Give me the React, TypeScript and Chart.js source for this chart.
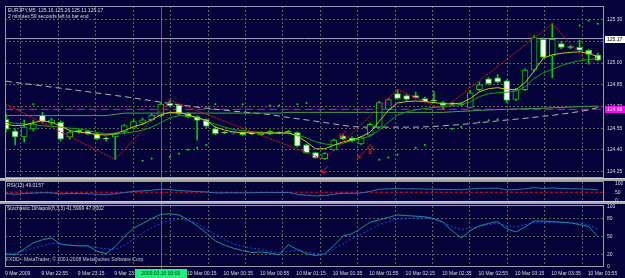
import React, { useEffect, useRef } from 'react';
import { Chart, registerables } from 'chart.js';

Chart.register(...registerables);

// ---------- texts ----------
const symbolTitle = 'EURJPY,M5  125.16 125.26 125.11 125.17';
const timerText = '2 minutes 59 seconds left to bar end';
const rsiTitle = 'RSI(13) 49.0157';
const stochTitle = 'Stochastic DiNapoli(8,3,3) 41.5999 47.0002';
const copyrightText = 'FXDD - MetaTrader, \u00a9 2001-2008 MetaQuotes Software Corp.';
const cursorTimeText = '2009.03.10 00:00';

// ---------- time axis ----------
const timeLabels = [
  '9 Mar 2009', '9 Mar 22:55', '9 Mar 23:15', '9 Mar 23:35', '9 Mar 23:55',
  '10 Mar 00:15', '10 Mar 00:35', '10 Mar 00:55', '10 Mar 01:15', '10 Mar 01:35',
  '10 Mar 01:55', '10 Mar 02:15', '10 Mar 02:35', '10 Mar 02:55', '10 Mar 03:15',
  '10 Mar 03:35', '10 Mar 03:55',
];
const timeLabelBars = [0, 4, 8, 12, 16, 20, 24, 28, 32, 36, 40, 44, 48, 52, 56, 60, 64];
const separatorBar = 17;

// ---------- candles (EURJPY M5) ----------
const opens = [
  124.611, 124.530, 124.489, 124.545, 124.640, 124.584, 124.591, 124.489, 124.534, 124.528,
  124.511, 124.475, 124.489, 124.523, 124.550, 124.584, 124.609, 124.637, 124.722, 124.709,
  124.652, 124.630, 124.609, 124.545, 124.520, 124.517, 124.518, 124.512, 124.505, 124.512,
  124.517, 124.515, 124.520, 124.434, 124.380, 124.339, 124.400, 124.496, 124.482, 124.441,
  124.502, 124.557, 124.680, 124.789, 124.775, 124.775, 124.755, 124.741, 124.727, 124.722,
  124.716, 124.693, 124.816, 124.891, 124.898, 124.877, 124.748, 124.816, 124.952, 125.164,
  125.048, 125.136, 125.110, 125.109, 125.089, 125.055,
];
const highs = [
  124.645, 124.545, 124.605, 124.605, 124.659, 124.620, 124.600, 124.530, 124.540, 124.535,
  124.515, 124.490, 124.520, 124.575, 124.610, 124.620, 124.650, 124.725, 124.743, 124.715,
  124.660, 124.635, 124.615, 124.560, 124.525, 124.525, 124.525, 124.520, 124.525, 124.535,
  124.525, 124.535, 124.525, 124.440, 124.385, 124.380, 124.475, 124.505, 124.490, 124.495,
  124.585, 124.735, 124.755, 124.816, 124.785, 124.800, 124.765, 124.805, 124.735, 124.730,
  124.722, 124.810, 124.870, 124.900, 124.920, 124.885, 124.825, 124.960, 125.190, 125.175,
  125.273, 125.150, 125.120, 125.160, 125.095, 125.070,
];
const lows = [
  124.523, 124.434, 124.455, 124.530, 124.584, 124.570, 124.460, 124.475, 124.515, 124.505,
  124.470, 124.460, 124.332, 124.510, 124.545, 124.575, 124.600, 124.630, 124.700, 124.640,
  124.620, 124.466, 124.555, 124.505, 124.510, 124.510, 124.500, 124.505, 124.500, 124.505,
  124.510, 124.510, 124.420, 124.375, 124.340, 124.332, 124.395, 124.470, 124.455, 124.435,
  124.495, 124.550, 124.675, 124.750, 124.740, 124.755, 124.730, 124.730, 124.680, 124.712,
  124.705, 124.690, 124.810, 124.850, 124.865, 124.727, 124.740, 124.810, 124.945, 125.035,
  124.900, 125.100, 125.100, 125.080, 124.993, 125.015,
];
const closes = [
  124.543, 124.489, 124.557, 124.580, 124.595, 124.607, 124.473, 124.523, 124.523, 124.512,
  124.477, 124.473, 124.511, 124.568, 124.596, 124.607, 124.641, 124.716, 124.705, 124.648,
  124.630, 124.603, 124.564, 124.511, 124.516, 124.519, 124.505, 124.510, 124.518, 124.528,
  124.515, 124.528, 124.427, 124.380, 124.346, 124.373, 124.468, 124.475, 124.461, 124.489,
  124.577, 124.727, 124.748, 124.755, 124.748, 124.761, 124.734, 124.736, 124.707, 124.718,
  124.712, 124.795, 124.850, 124.857, 124.870, 124.741, 124.816, 124.952, 125.177, 125.041,
  125.164, 125.109, 125.108, 125.089, 125.061, 125.020,
];

// ---------- moving averages ----------
const fastMA = [
  124.577, 124.567, 124.571, 124.588, 124.601, 124.591, 124.564, 124.533, 124.523, 124.516,
  124.506, 124.502, 124.511, 124.533, 124.560, 124.577, 124.608, 124.642, 124.659, 124.659,
  124.642, 124.622, 124.605, 124.557, 124.536, 124.523, 124.519, 124.518, 124.516, 124.516,
  124.516, 124.518, 124.496, 124.455, 124.407, 124.407, 124.431, 124.455, 124.468, 124.489,
  124.523, 124.598, 124.673, 124.724, 124.734, 124.738, 124.734, 124.727, 124.720, 124.717,
  124.724, 124.755, 124.802, 124.823, 124.830, 124.819, 124.816, 124.864, 124.945, 125.034,
  125.058, 125.068, 125.075, 125.078, 125.068, 125.044,
];
const slowMA = [
  124.591, 124.584, 124.579, 124.574, 124.567, 124.562, 124.557, 124.550, 124.546, 124.533,
  124.519, 124.511, 124.511, 124.516, 124.523, 124.536, 124.557, 124.588, 124.622, 124.637,
  124.635, 124.622, 124.598, 124.577, 124.557, 124.540, 124.533, 124.525, 124.521, 124.519,
  124.516, 124.513, 124.502, 124.482, 124.455, 124.441, 124.433, 124.444, 124.465, 124.475,
  124.496, 124.536, 124.591, 124.639, 124.663, 124.676, 124.686, 124.693, 124.699, 124.706,
  124.714, 124.731, 124.768, 124.789, 124.794, 124.799, 124.806, 124.836, 124.894, 124.932,
  124.956, 124.983, 125.003, 125.017, 125.024, 125.034,
];
const longMA = [
  124.637, 124.637, 124.637, 124.637, 124.637, 124.637, 124.637, 124.637, 124.637, 124.637,
  124.637, 124.637, 124.645, 124.654, 124.654, 124.654, 124.654, 124.654, 124.654, 124.654,
  124.654, 124.654, 124.654, 124.654, 124.654, 124.654, 124.654, 124.654, 124.654, 124.654,
  124.654, 124.659, 124.659, 124.659, 124.659, 124.659, 124.659, 124.659, 124.659, 124.659,
  124.659, 124.659, 124.659, 124.659, 124.659, 124.659, 124.659, 124.659, 124.659, 124.663,
  124.666, 124.669, 124.673, 124.676, 124.678, 124.680, 124.682, 124.684, 124.686, 124.688,
  124.691, 124.693, 124.696, 124.699, 124.701, 124.703,
];
const grayMA = [
  124.875, 124.866, 124.858, 124.851, 124.843, 124.834, 124.826, 124.818, 124.810, 124.802,
  124.793, 124.785, 124.776, 124.768, 124.759, 124.749, 124.740, 124.730, 124.721, 124.711,
  124.704, 124.695, 124.688, 124.681, 124.674, 124.667, 124.662, 124.656, 124.651, 124.643,
  124.634, 124.624, 124.615, 124.607, 124.598, 124.589, 124.579, 124.569, 124.561, 124.557,
  124.557, 124.557, 124.557, 124.557, 124.557, 124.557, 124.559, 124.562, 124.566, 124.571,
  124.575, 124.581, 124.588, 124.593, 124.600, 124.606, 124.612, 124.618, 124.625, 124.632,
  124.638, 124.647, 124.656, 124.665, 124.676, 124.693,
];

// ---------- zigzag ----------
const zigzagBars = [-1, 12, 18, 35, 43, 48, 60, 64, 65];
const zigzagPrices = [124.748, 124.332, 124.743, 124.332, 124.816, 124.680, 125.273, 124.993, 125.048];

// ---------- dots & arrows ----------
const sarBars = [3, 15, 16, 18, 19, 20, 21, 22, 23, 26, 29, 30, 32, 33, 41, 42, 43, 45, 46, 49, 50, 52, 53, 54, 63, 64, 65];
const sarPrices = [
  124.716, 124.325, 124.339, 124.352, 124.373, 124.400, 124.414, 124.434, 124.716, 124.716,
  124.707, 124.707, 124.716, 124.724, 124.332, 124.346, 124.366, 124.414, 124.434, 124.546,
  124.557, 124.591, 124.605, 124.611, 125.261, 125.295, 125.273,
];
const arrowBars = [35, 37, 39];
const arrowPrices = [124.264, 124.509, 124.366];
const upArrowBars = [40];
const upArrowPrices = [124.407];

// ---------- levels ----------
const bidPrice = 125.17;
const magentaLevel = 124.68;
const priceTicks = [124.25, 124.4, 124.55, 124.7, 124.85, 125.0, 125.15, 125.3];

// ---------- RSI ----------
const rsiValues = [
  42, 38, 43, 45, 47, 46, 40, 42, 42, 41,
  38, 37, 41, 48, 55, 58, 62, 68, 66, 60,
  57, 54, 52, 46, 46, 47, 46, 47, 48, 49,
  48, 49, 38, 32, 28, 30, 38, 44, 43, 46,
  55, 68, 70, 72, 70, 71, 69, 68, 66, 66,
  65, 70, 73, 74, 74, 64, 66, 70, 78, 72,
  76, 72, 71, 70, 68, 64,
];
const rsiLevel = 50;
const rsiTicks = [0, 50, 100];

// ---------- Stochastic ----------
const stochMain = [
  22, 20, 30, 40, 45, 48, 38, 36, 35, 35,
  26, 22, 34, 50, 64, 72, 80, 87, 88, 86,
  78, 68, 56, 43, 36, 31, 27, 24, 25, 23,
  20, 37, 29, 22, 19, 22, 35, 51, 55, 64,
  74, 78, 82, 86, 85, 84, 83, 80, 74, 60,
  48, 60, 68, 72, 75, 63, 58, 66, 76, 76,
  75, 74, 73, 70, 67, 50,
];
const stochSignal = [
  20, 23, 27, 31, 35, 39, 38, 36, 35, 34,
  32, 30, 29, 36, 46, 56, 65, 72, 77, 79,
  77, 72, 62, 54, 45, 38, 34, 31, 29, 26,
  23, 26, 28, 25, 22, 20, 30, 38, 47, 54,
  62, 70, 75, 79, 80, 81, 81, 79, 74, 66,
  62, 64, 67, 70, 72, 68, 66, 70, 74, 74,
  74, 74, 73, 72, 70, 63,
];
const stochLevels = [20, 50, 80];
const stochTicks = [0, 20, 50, 80, 100];

// ---------- styling ----------
const BG = '#03033a';
const GRID = '#5a6450';
const TEXT = '#dcdcdc';
const FRAME = '#9a9a9a';
const FONT_FAMILY = '"Liberation Sans", Arial, sans-serif';
const CANDLE_GREEN = '#00c800';

function makeDownLeftArrow(): HTMLCanvasElement {
  const c = document.createElement('canvas');
  c.width = 9;
  c.height = 9;
  const g = c.getContext('2d')!;
  g.strokeStyle = '#e01818';
  g.lineWidth = 1;
  g.beginPath();
  g.moveTo(8, 1);
  g.lineTo(2, 7);
  g.stroke();
  g.beginPath();
  g.moveTo(1.5, 4);
  g.lineTo(1.5, 7.5);
  g.lineTo(5, 7.5);
  g.stroke();
  return c;
}

function makeUpArrow(): HTMLCanvasElement {
  const c = document.createElement('canvas');
  c.width = 7;
  c.height = 10;
  const g = c.getContext('2d')!;
  g.strokeStyle = '#c82020';
  g.lineWidth = 1;
  g.beginPath();
  g.moveTo(3.5, 0.5);
  g.lineTo(6.5, 4.5);
  g.lineTo(4.5, 4.5);
  g.lineTo(4.5, 9.5);
  g.lineTo(2.5, 9.5);
  g.lineTo(2.5, 4.5);
  g.lineTo(0.5, 4.5);
  g.closePath();
  g.stroke();
  return c;
}

const overlayPlugin = {
  id: 'mt4Overlay',
  beforeDraw(chart: any) {
    const ctx = chart.ctx;
    ctx.save();
    ctx.fillStyle = BG;
    ctx.fillRect(0, 0, chart.width, chart.height);
    ctx.restore();
  },
  beforeDatasetsDraw(chart: any) {
    const { ctx, chartArea: ca } = chart;
    const x = Math.round(chart.scales.x.getPixelForValue(separatorBar)) + 0.5;
    ctx.save();
    ctx.strokeStyle = '#009a40';
    ctx.lineWidth = 1;
    ctx.beginPath();
    ctx.moveTo(x, ca.top);
    ctx.lineTo(x, chart.height);
    ctx.stroke();
    ctx.restore();
  },
  afterDraw(chart: any) {
    const { ctx, chartArea: ca } = chart;
    const W = chart.width;
    const xs = chart.scales.x;
    const sMain = chart.scales.yMain;
    const sRsi = chart.scales.yRsi;
    ctx.save();
    // panel frames
    ctx.strokeStyle = FRAME;
    ctx.lineWidth = 1;
    const panels = [
      [ca.top, sMain.bottom - 1.5],
      [sMain.bottom + 1.5, sRsi.bottom - 1.5],
      [sRsi.bottom + 1.5, ca.bottom],
    ];
    for (const [t, b] of panels) {
      ctx.strokeRect(Math.round(ca.left) + 0.5, Math.round(t) + 0.5, Math.round(ca.right - ca.left) - 1, Math.round(b - t) - 1);
    }
    // separators
    for (const b of [sMain.bottom, sRsi.bottom]) {
      const y = Math.round(b) - 2;
      ctx.fillStyle = '#a8a8a8';
      ctx.fillRect(0, y, W, 3);
      ctx.fillStyle = '#d0d0d0';
      ctx.fillRect(0, y, W, 1);
    }
    // texts
    ctx.font = `5px ${FONT_FAMILY}`;
    ctx.fillStyle = TEXT;
    ctx.textBaseline = 'top';
    ctx.textAlign = 'left';
    ctx.fillText(symbolTitle, ca.left + 3, ca.top + 2);
    ctx.fillText(timerText, ca.left + 3, ca.top + 8);
    ctx.fillText(rsiTitle, ca.left + 2, sMain.bottom + 3);
    ctx.fillText(stochTitle, ca.left + 2, sRsi.bottom + 3);
    ctx.fillStyle = '#c8c8c8';
    ctx.fillText(copyrightText, ca.left + 1, ca.bottom - 10);
    // time labels along the x scale
    ctx.fillStyle = TEXT;
    ctx.textBaseline = 'middle';
    timeLabelBars.forEach((b, k) => {
      const px = xs.getPixelForValue(b);
      ctx.fillText(timeLabels[k], Math.max(1, px - 1), ca.bottom + 6.5);
    });
    // bid box
    const bidY = Math.round(sMain.getPixelForValue(bidPrice));
    ctx.fillStyle = '#ffffff';
    ctx.fillRect(ca.right + 1, bidY - 3, 20, 7);
    ctx.fillStyle = '#000000';
    ctx.fillText(bidPrice.toFixed(2), ca.right + 3, bidY + 0.5);
    // magenta level box
    const magY = Math.round(sMain.getPixelForValue(magentaLevel));
    ctx.fillStyle = '#ff00ff';
    ctx.fillRect(ca.right + 1, magY - 3, 20, 7);
    ctx.fillStyle = '#ffffff';
    ctx.fillText(magentaLevel.toFixed(2), ca.right + 3, magY + 0.5);
    // cursor time box
    const tx = xs.getPixelForValue(separatorBar);
    ctx.fillStyle = '#22f07a';
    ctx.fillRect(Math.round(tx - 26), ca.bottom + 2, 52, 9);
    ctx.fillStyle = '#003010';
    ctx.textAlign = 'center';
    ctx.fillText(cursorTimeText, tx, ca.bottom + 6.5);
    ctx.restore();
  },
};

export default function App() {
  const canvasRef = useRef<HTMLCanvasElement | null>(null);

  useEffect(() => {
    const canvas = canvasRef.current;
    if (!canvas) return;
    const bars = opens.map((_, i) => i);
    const downArrow = makeDownLeftArrow();
    const upArrow = makeUpArrow();
    const xMin = -0.109;
    const xMax = 65.68;
    const gridStart = 1.64;
    const gridStep = 4.11;
    const tickFont = { size: 5, family: FONT_FAMILY };

    const chart = new Chart(canvas, {
      type: 'line',
      data: {
        datasets: [
          {
            type: 'line',
            label: 'dots',
            data: sarBars.map((b, i) => ({ x: b, y: sarPrices[i] })),
            showLine: false,
            pointRadius: 1,
            pointBorderWidth: 0,
            pointBackgroundColor: '#10e010',
            xAxisID: 'x',
            yAxisID: 'yMain',
            order: 0,
          },
          {
            type: 'line',
            label: 'arrows',
            data: arrowBars.map((b, i) => ({ x: b, y: arrowPrices[i] })),
            showLine: false,
            pointStyle: downArrow,
            xAxisID: 'x',
            yAxisID: 'yMain',
            order: 0,
          },
          {
            type: 'line',
            label: 'upArrows',
            data: upArrowBars.map((b, i) => ({ x: b, y: upArrowPrices[i] })),
            showLine: false,
            pointStyle: upArrow,
            xAxisID: 'x',
            yAxisID: 'yMain',
            order: 0,
          },
          {
            type: 'line',
            label: 'zigzag',
            data: zigzagBars.map((b, i) => ({ x: b, y: zigzagPrices[i] })),
            borderColor: '#d01818',
            borderWidth: 1,
            borderDash: [2, 1],
            pointRadius: 0,
            xAxisID: 'x',
            yAxisID: 'yMain',
            order: 1,
          },
          {
            type: 'line',
            label: 'fast',
            data: bars.map((i) => ({ x: i, y: fastMA[i] })),
            borderColor: '#c8c800',
            borderWidth: 1,
            pointRadius: 0,
            xAxisID: 'x',
            yAxisID: 'yMain',
            order: 2,
          },
          {
            type: 'line',
            label: 'slow',
            data: bars.map((i) => ({ x: i, y: slowMA[i] })),
            borderColor: '#10a010',
            borderWidth: 1,
            pointRadius: 0,
            xAxisID: 'x',
            yAxisID: 'yMain',
            order: 3,
          },
          {
            type: 'line',
            label: 'long',
            data: bars.map((i) => ({ x: i, y: longMA[i] })),
            borderColor: '#48a048',
            borderWidth: 1,
            pointRadius: 0,
            xAxisID: 'x',
            yAxisID: 'yMain',
            order: 4,
          },
          {
            type: 'bar',
            label: 'bodies',
            data: bars.map((i) => ({ x: i, y: [opens[i], closes[i]] })),
            backgroundColor: bars.map((i) => (closes[i] >= opens[i] ? BG : '#ffffff')),
            borderColor: CANDLE_GREEN,
            borderWidth: 1,
            borderSkipped: false,
            barThickness: 6,
            minBarLength: 1,
            grouped: false,
            xAxisID: 'x',
            yAxisID: 'yMain',
            order: 5,
          } as any,
          {
            type: 'bar',
            label: 'wicks',
            data: bars.map((i) => ({ x: i, y: [lows[i], highs[i]] })),
            backgroundColor: CANDLE_GREEN,
            borderWidth: 0,
            barThickness: 1,
            grouped: false,
            xAxisID: 'x',
            yAxisID: 'yMain',
            order: 6,
          } as any,
          {
            type: 'line',
            label: 'grayMA',
            data: bars.map((i) => ({ x: i, y: grayMA[i] })),
            borderColor: '#b4b4b4',
            borderWidth: 1,
            borderDash: [6, 4],
            pointRadius: 0,
            xAxisID: 'x',
            yAxisID: 'yMain',
            order: 7,
          },
          {
            type: 'line',
            label: 'magenta',
            data: [{ x: xMin, y: magentaLevel }, { x: xMax, y: magentaLevel }],
            borderColor: '#e000e0',
            borderWidth: 1,
            borderDash: [8, 4],
            pointRadius: 0,
            xAxisID: 'x',
            yAxisID: 'yMain',
            order: 8,
          },
          {
            type: 'line',
            label: 'bid',
            data: [{ x: xMin, y: bidPrice }, { x: xMax, y: bidPrice }],
            borderColor: '#a8a8a8',
            borderWidth: 1,
            pointRadius: 0,
            xAxisID: 'x',
            yAxisID: 'yMain',
            order: 9,
          },
          {
            type: 'line',
            label: 'rsiLevel',
            data: [{ x: xMin, y: rsiLevel }, { x: xMax, y: rsiLevel }],
            borderColor: '#e01010',
            borderWidth: 1,
            borderDash: [3, 2],
            pointRadius: 0,
            xAxisID: 'x',
            yAxisID: 'yRsi',
            order: 2,
          },
          {
            type: 'line',
            label: 'rsi',
            data: bars.map((i) => ({ x: i, y: rsiValues[i] })),
            borderColor: '#2a74b0',
            borderWidth: 1,
            pointRadius: 0,
            xAxisID: 'x',
            yAxisID: 'yRsi',
            order: 1,
          },
          {
            type: 'line',
            label: 'stochMain',
            data: bars.map((i) => ({ x: i, y: stochMain[i] })),
            borderColor: '#1e9090',
            borderWidth: 1,
            pointRadius: 0,
            xAxisID: 'x',
            yAxisID: 'yStoch',
            order: 1,
          },
          {
            type: 'line',
            label: 'stochSignal',
            data: bars.map((i) => ({ x: i, y: stochSignal[i] })),
            borderColor: '#2440ff',
            borderWidth: 1,
            borderDash: [2, 2],
            pointRadius: 0,
            xAxisID: 'x',
            yAxisID: 'yStoch',
            order: 2,
          },
        ],
      },
      options: {
        responsive: false,
        animation: false,
        devicePixelRatio: 1,
        events: [],
        layout: { padding: { top: 2, left: 2, right: 0, bottom: 0 } },
        plugins: { legend: { display: false }, tooltip: { enabled: false } },
        scales: {
          x: {
            type: 'linear',
            position: 'bottom',
            min: xMin,
            max: xMax,
            offset: false,
            grid: { display: false },
            border: { display: false },
            ticks: { display: false },
            afterFit: (axis: any) => {
              axis.height = 11;
            },
          },
          xg: {
            type: 'linear',
            position: 'bottom',
            min: xMin,
            max: xMax,
            offset: false,
            grid: { color: GRID, drawTicks: false, lineWidth: 1 },
            border: { display: false, dash: [2, 2] },
            ticks: { display: false },
            afterBuildTicks: (axis: any) => {
              const t = [];
              for (let v = gridStart; v < xMax; v += gridStep) t.push({ value: v });
              axis.ticks = t;
            },
            afterFit: (axis: any) => {
              axis.height = 0;
            },
          },
          yMain: {
            type: 'linear',
            position: 'right',
            stack: 'panels',
            stackWeight: 176.5,
            min: 124.1921,
            max: 125.3954,
            grid: { color: GRID, drawTicks: false },
            border: { display: false, dash: [2, 2] },
            afterBuildTicks: (axis: any) => {
              axis.ticks = priceTicks.map((v) => ({ value: v }));
            },
            afterFit: (axis: any) => {
              axis.width = 21;
            },
            ticks: {
              autoSkip: false,
              padding: 3,
              color: TEXT,
              font: tickFont,
              callback: (v: any) => Number(v).toFixed(2),
            },
          },
          yRsi: {
            type: 'linear',
            position: 'right',
            stack: 'panels',
            stackWeight: 24,
            min: -17,
            max: 124,
            grid: { display: false },
            border: { display: false },
            afterBuildTicks: (axis: any) => {
              axis.ticks = rsiTicks.map((v) => ({ value: v }));
            },
            afterFit: (axis: any) => {
              axis.width = 21;
            },
            ticks: { autoSkip: false, padding: 3, color: TEXT, font: tickFont },
          },
          yStoch: {
            type: 'linear',
            position: 'right',
            stack: 'panels',
            stackWeight: 64.5,
            min: 0,
            max: 105,
            grid: {
              drawTicks: false,
              color: (c: any) => (c.tick && stochLevels.includes(c.tick.value) ? GRID : 'rgba(0,0,0,0)'),
            },
            border: { display: false, dash: [2, 2] },
            afterBuildTicks: (axis: any) => {
              axis.ticks = stochTicks.map((v) => ({ value: v }));
            },
            afterFit: (axis: any) => {
              axis.width = 21;
            },
            ticks: { autoSkip: false, padding: 3, color: TEXT, font: tickFont },
          },
        },
      } as any,
      plugins: [overlayPlugin],
    });

    return () => {
      chart.destroy();
    };
  }, []);

  return (
    <div style={{ position: 'absolute', left: 0, top: 0, width: 625, height: 278, background: BG }}>
      <canvas ref={canvasRef} width={625} height={278} style={{ display: 'block', width: 625, height: 278 }} />
    </div>
  );
}
